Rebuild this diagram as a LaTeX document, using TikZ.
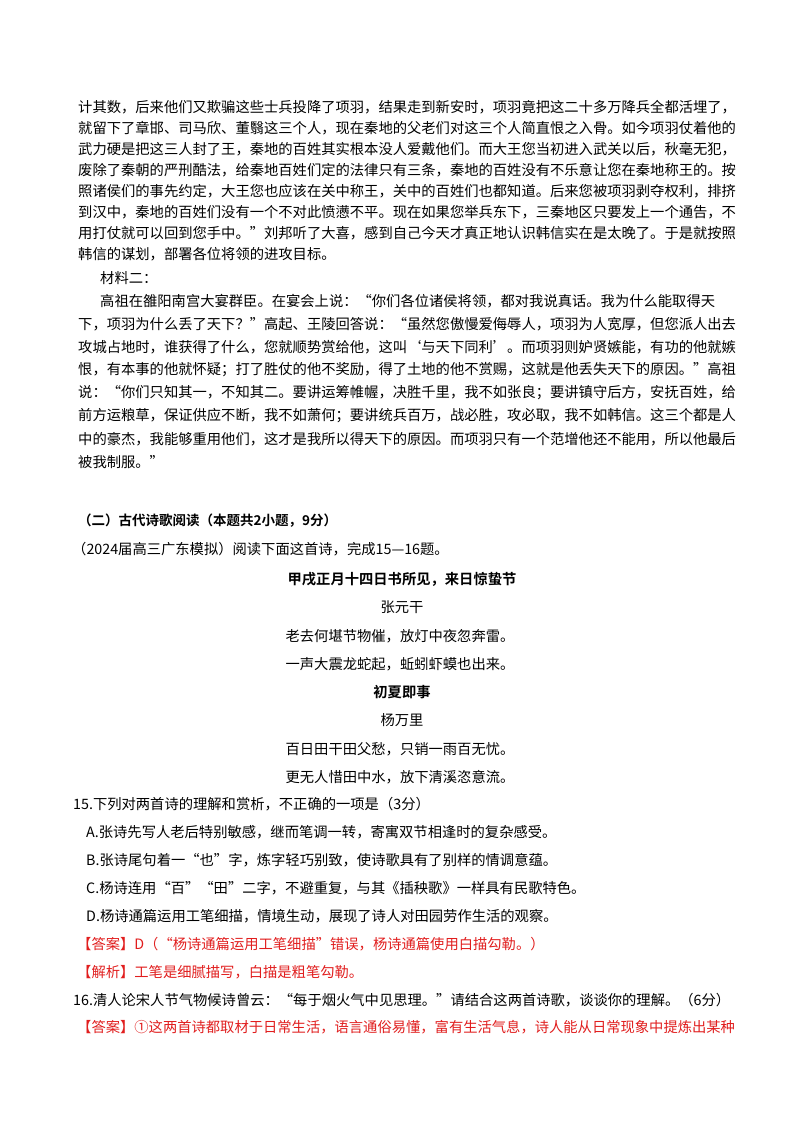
\documentclass[tikz,border=0pt]{standalone}
\usepackage{fontspec}
\newfontfamily\cjk{Noto Sans CJK SC}[BoldFont={Noto Sans CJK SC Bold}]
\definecolor{ansred}{RGB}{225,30,30}
\tikzset{ln/.style={anchor=west,inner sep=0pt,font=\cjk\fontsize{14.3}{16}\selectfont},
 ctr/.style={anchor=center,inner sep=0pt,font=\cjk\fontsize{14.3}{16}\selectfont},
 hd/.style={anchor=west,inner sep=0pt,font=\cjk\bfseries\fontsize{13.5}{16}\selectfont},
 red/.style={text=ansred}}
\begin{document}
\begin{tikzpicture}[x=1pt,y=-1pt]
\useasboundingbox[fill=white] (0,0) rectangle (800,1132);
\node[ln] (p1) at (78,107) {计其数，后来他们又欺骗这些士兵投降了项羽，结果走到新安时，项羽竟把这二十多万降兵全都活埋了，};
\node[ln] (p2) at (78,128) {就留下了章邯、司马欣、董翳这三个人，现在秦地的父老们对这三个人简直恨之入骨。如今项羽仗着他的};
\node[ln] (p3) at (78,149) {武力硬是把这三人封了王，秦地的百姓其实根本没人爱戴他们。而大王您当初进入武关以后，秋毫无犯，};
\node[ln] (p4) at (78,170) {废除了秦朝的严刑酷法，给秦地百姓们定的法律只有三条，秦地的百姓没有不乐意让您在秦地称王的。按};
\node[ln] (p5) at (78,191) {照诸侯们的事先约定，大王您也应该在关中称王，关中的百姓们也都知道。后来您被项羽剥夺权利，排挤};
\node[ln] (p6) at (78,212) {到汉中，秦地的百姓们没有一个不对此愤懑不平。现在如果您举兵东下，三秦地区只要发上一个通告，不};
\node[ln] (p7) at (78,233) {用打仗就可以回到您手中。”刘邦听了大喜，感到自己今天才真正地认识韩信实在是太晚了。于是就按照};
\node[ln] (p8) at (78,254) {韩信的谋划，部署各位将领的进攻目标。};
\node[ln] (m2) at (100,278) {材料二：};
\node[ln] (q1) at (100,301) {高祖在雒阳南宫大宴群臣。在宴会上说：“你们各位诸侯将领，都对我说真话。我为什么能取得天};
\node[ln] (q2) at (78,324) {下，项羽为什么丢了天下？”高起、王陵回答说：“虽然您傲慢爱侮辱人，项羽为人宽厚，但您派人出去};
\node[ln] (q3) at (78,347) {攻城占地时，谁获得了什么，您就顺势赏给他，这叫‘与天下同利’。而项羽则妒贤嫉能，有功的他就嫉};
\node[ln] (q4) at (78,370) {恨，有本事的他就怀疑；打了胜仗的他不奖励，得了土地的他不赏赐，这就是他丢失天下的原因。”高祖};
\node[ln] (q5) at (78,393) {说：“你们只知其一，不知其二。要讲运筹帷幄，决胜千里，我不如张良；要讲镇守后方，安抚百姓，给};
\node[ln] (q6) at (78,416) {前方运粮草，保证供应不断，我不如萧何；要讲统兵百万，战必胜，攻必取，我不如韩信。这三个都是人};
\node[ln] (q7) at (78,439) {中的豪杰，我能够重用他们，这才是我所以得天下的原因。而项羽只有一个范增他还不能用，所以他最后};
\node[ln] (q8) at (78,462) {被我制服。”};
\node[hd] (h2) at (78,521) {（二）古代诗歌阅读（本题共2小题，9分）};
\node[ln] (src) at (72,549) {（2024届高三广东模拟）阅读下面这首诗，完成15—16题。};
\node[ctr,font=\cjk\bfseries\fontsize{14.3}{16}\selectfont] (t1) at (402,579) {甲戌正月十四日书所见，来日惊蛰节};
\node[ctr] (a1) at (402,607) {张元干};
\node[ctr] (l1) at (400,636) {老去何堪节物催，放灯中夜忽奔雷。};
\node[ctr] (l2) at (400,664) {一声大震龙蛇起，蚯蚓虾蟆也出来。};
\node[ctr,font=\cjk\bfseries\fontsize{14.3}{16}\selectfont] (t2) at (402,692) {初夏即事};
\node[ctr] (a2) at (402,720) {杨万里};
\node[ctr] (l3) at (400,749) {百日田干田父愁，只销一雨百无忧。};
\node[ctr] (l4) at (400,777) {更无人惜田中水，放下清溪恣意流。};
\node[ln] (q15) at (73,804) {15.下列对两首诗的理解和赏析，不正确的一项是（3分）};
\node[ln] (oa) at (86,832) {A.张诗先写人老后特别敏感，继而笔调一转，寄寓双节相逢时的复杂感受。};
\node[ln] (ob) at (86,860) {B.张诗尾句着一“也”字，炼字轻巧别致，使诗歌具有了别样的情调意蕴。};
\node[ln] (oc) at (86,888) {C.杨诗连用“百”“田”二字，不避重复，与其《插秧歌》一样具有民歌特色。};
\node[ln] (od) at (86,916) {D.杨诗通篇运用工笔细描，情境生动，展现了诗人对田园劳作生活的观察。};
\node[ln,red] (ans1) at (77,944) {【答案】D（“杨诗通篇运用工笔细描”错误，杨诗通篇使用白描勾勒。）};
\node[ln,red] (jx) at (77,972) {【解析】工笔是细腻描写，白描是粗笔勾勒。};
\node[ln] (q16) at (73,1000) {16.清人论宋人节气物候诗曾云：“每于烟火气中见思理。”请结合这两首诗歌，谈谈你的理解。（6分）};
\node[ln,red] (ans2) at (77,1027) {【答案】①这两首诗都取材于日常生活，语言通俗易懂，富有生活气息，诗人能从日常现象中提炼出某种};
\end{tikzpicture}
\end{document}
